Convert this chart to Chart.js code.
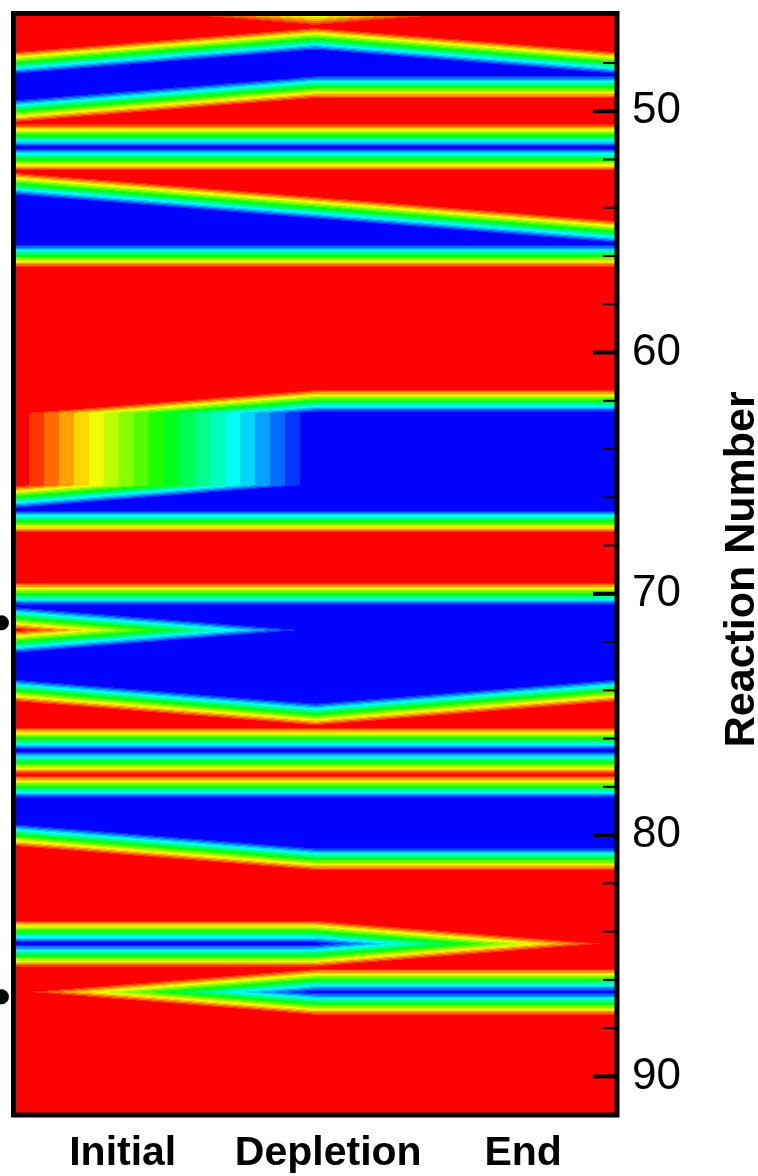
<!DOCTYPE html>
<html><head><meta charset="utf-8">
<script src="https://cdn.jsdelivr.net/npm/chart.js@4/dist/chart.umd.min.js"></script>
<style>html,body{margin:0;padding:0;background:#fff}canvas{display:block}</style>
</head><body>
<canvas id="c" width="758" height="1176"></canvas>
<script>
// grid nodes (reaction coordinate of each row of the field)
const reactionNodes = [45.5,46.5,47.5,48.5,49.5,50.5,51.5,52.5,53.5,54.5,55.5,56.5,57.5,58.5,59.5,60.5,61.5,62.5,63.5,64.5,65.5,66.5,67.5,68.5,69.5,70.5,71.5,72.5,73.5,74.5,75.5,76.5,77.5,78.5,79.5,80.5,81.5,82.5,83.5,84.5,85.5,86.5,87.5,88.5,89.5,90.5,91.5,92.5];
// normalized value per node at each stage (1 = red, 0 = blue)
const initialValues   = [1,1,1,0,0,1,0,1,0,0,0,1,1,1,1,1,1,1,1,1,1,0,1,1,1,0,1,0,0,1,1,0,1,0,0,1,1,1,1,0,1,1,1,1,1,1,1,1];
const depletionValues = [0.35,1,0,0,1,1,0,1,1,0,0,1,1,1,1,1,1,0,0,0,0,0,1,1,1,0,0,0,0,0,1,0,1,0,0,0,1,1,1,0,1,0,1,1,1,1,1,1];
const endValues       = [1,1,1,0,1,1,0,1,1,1,0,1,1,1,1,1,1,0,0,0,0,0,1,1,1,0,0,0,0,1,1,0,1,0,0,0,1,1,1,1,1,0,1,1,1,1,1,1];
const stagePositions = [0, 1, 2];
const stageLabels = ['Initial','Depletion','End'];
const stageLabelPos = [0.362, 1.043, 1.689];
const yMajorTicks = [50,60,70,80,90];
const yMinorTicks = [48,52,54,56,58,62,64,66,68,72,74,76,78,82,84,86,88];
const markerReactions = [71.2, 86.7];
const markerStage = -0.04;

const stageColumns = [initialValues, depletionValues, endValues];
const NLEV = 20;
function hsvColor(h){
  const hp = h/60, xx = Math.round(255*(1-Math.abs(hp%2-1)));
  if (hp < 1) return [255,xx,0];
  if (hp < 2) return [xx,255,0];
  if (hp < 3) return [0,255,xx];
  return [0,xx,255];
}
const palette = [];
for (let k=0;k<NLEV;k++) palette.push(hsvColor(k*240/(NLEV-1)));

function fieldValue(i,k,t,u){
  const A=stageColumns[i][k], B=stageColumns[i][k+1], C=stageColumns[i+1][k], D=stageColumns[i+1][k+1];
  if (Math.abs(A-D) <= Math.abs(B-C)) {
    if (t >= u) return A + (C-A)*t + (D-C)*u;
    return A + (B-A)*u + (D-B)*t;
  } else {
    if (t+u <= 1) return A + (C-A)*t + (B-A)*u;
    return D + (B-D)*(1-t) + (C-D)*(1-u);
  }
}

const fieldPlugin = {
  id:'field',
  beforeDatasetsDraw(chart){
    const {ctx, chartArea:{left,top,right,bottom}, scales:{x,y}} = chart;
    const L=Math.round(left), T=Math.round(top), W=Math.round(right)-L, H=Math.round(bottom)-T;
    const img = ctx.createImageData(W,H);
    const d = img.data;
    const colInfo = [];
    for (let px=0;px<W;px++){
      const xv = x.getValueForPixel(L+px+0.5);
      let i=0; for (let s=0;s<stagePositions.length-1;s++){ if (xv>=stagePositions[s]) i=s; }
      let t=(xv-stagePositions[i])/(stagePositions[i+1]-stagePositions[i]);
      t=Math.max(0,Math.min(1,t));
      colInfo.push([i,t]);
    }
    for (let py=0;py<H;py++){
      const r = y.getValueForPixel(T+py+0.5);
      let k=0; for (let n=0;n<reactionNodes.length-1;n++){ if (r>=reactionNodes[n]) k=n; }
      let u=(r-reactionNodes[k])/(reactionNodes[k+1]-reactionNodes[k]);
      u=Math.max(0,Math.min(1,u));
      for (let px=0;px<W;px++){
        const [i,t]=colInfo[px];
        const f=fieldValue(i,k,t,u);
        let lev=Math.floor((1-f)*NLEV+1e-9); lev=Math.max(0,Math.min(NLEV-1,lev));
        const c=palette[lev]; const o=(py*W+px)*4;
        d[o]=c[0]; d[o+1]=c[1]; d[o+2]=c[2]; d[o+3]=255;
      }
    }
    ctx.putImageData(img,L,T);
  },
  afterDraw(chart){
    const {ctx, chartArea:{left,top,right,bottom}, scales:{y}} = chart;
    ctx.save();
    ctx.strokeStyle='#000';
    ctx.lineWidth=2;
    yMinorTicks.forEach(v=>{const p=y.getPixelForValue(v);ctx.beginPath();ctx.moveTo(right-14,p);ctx.lineTo(right,p);ctx.stroke();});
    ctx.lineWidth=4;
    yMajorTicks.forEach(v=>{const p=y.getPixelForValue(v);ctx.beginPath();ctx.moveTo(right-24,p);ctx.lineTo(right,p);ctx.stroke();});
    ctx.lineWidth=5;
    ctx.strokeRect(left,top,right-left,bottom-top);
    ctx.translate(754,(top+bottom)/2+5);
    ctx.rotate(-Math.PI/2);
    ctx.fillStyle='#000';
    ctx.font='bold 43px "Liberation Sans", Arial, sans-serif';
    ctx.textAlign='center';ctx.textBaseline='alphabetic';
    ctx.fillText('Reaction Number',0,0);
    ctx.restore();
  }
};

new Chart(document.getElementById('c'), {
  type:'scatter',
  data:{datasets:[{
    label:'marked reactions',
    data: markerReactions.map(r=>({x:markerStage,y:r})),
    pointRadius:7.5, pointHoverRadius:7.5, backgroundColor:'#000', borderColor:'rgba(0,0,0,0)', borderWidth:6, clip:false
  }]},
  options:{
    responsive:false, devicePixelRatio:1, animation:false,
    layout:{padding:{left:12,top:12,right:0,bottom:0}},
    plugins:{legend:{display:false},tooltip:{enabled:false}},
    scales:{
      x:{type:'linear',position:'bottom',min:0,max:2,
        grid:{display:false,drawTicks:false},border:{display:false},
        afterBuildTicks:(s)=>{s.ticks=stageLabelPos.map(v=>({value:v}));},
        afterFit:(s)=>{s.height=61;s.paddingLeft=0;s.paddingRight=0;},
        ticks:{autoSkip:false,maxRotation:0,padding:14,color:'#000',
          font:{family:'"Liberation Sans", Arial, sans-serif',size:41,weight:'bold'},
          callback:(v)=>{const i=stageLabelPos.indexOf(v);return i>=0?stageLabels[i]:'';}}
      },
      y:{type:'linear',position:'right',reverse:true,min:45.95,max:91.6,
        grid:{display:false,drawTicks:false},border:{display:false},
        afterBuildTicks:(s)=>{s.ticks=yMajorTicks.map(v=>({value:v}));},
        afterFit:(s)=>{s.width=141;s.paddingTop=0;s.paddingBottom=0;},
        ticks:{autoSkip:false,padding:15,color:'#000',
          font:{family:'"Liberation Sans", Arial, sans-serif',size:44}}
      }
    }
  },
  plugins:[fieldPlugin]
});
</script>
</body></html>
